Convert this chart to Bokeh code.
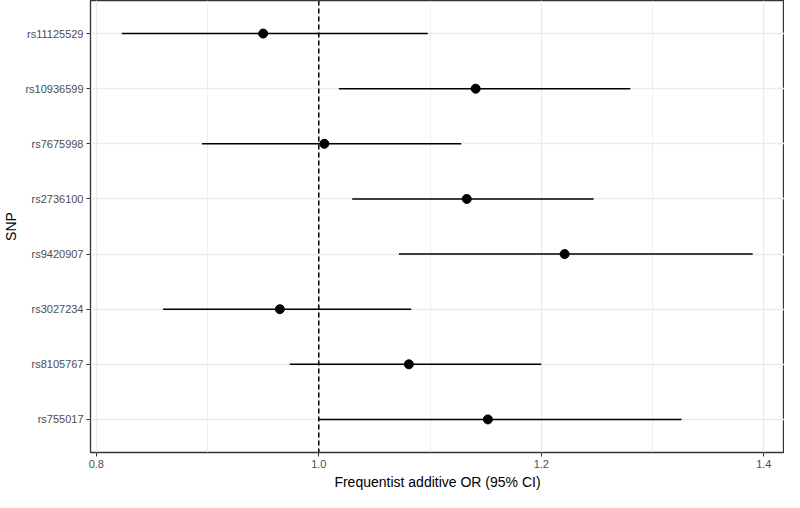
from bokeh.plotting import figure
from bokeh.models import FixedTicker, Span, ColumnDataSource, FactorRange, CustomJSTickFormatter
from bokeh.embed import file_html
from bokeh.resources import INLINE

snps = ["rs11125529", "rs10936599", "rs7675998", "rs2736100",
        "rs9420907", "rs3027234", "rs8105767", "rs755017"]
odds = [0.950, 1.141, 1.005, 1.133, 1.221, 0.965, 1.081, 1.152]
lower = [0.823, 1.018, 0.895, 1.030, 1.072, 0.860, 0.974, 1.000]
upper = [1.098, 1.280, 1.128, 1.247, 1.390, 1.083, 1.200, 1.326]
x_ticks = [0.8, 1.0, 1.2, 1.4]
x_minor = [0.9, 1.1, 1.3]
ref_line = 1.0

src = ColumnDataSource(dict(snp=snps, odds=odds, lower=lower, upper=upper))

factors = list(reversed(snps))
yr = FactorRange(factors=factors, range_padding=0.1, range_padding_units="absolute")

p = figure(width=784, height=492, y_range=yr, x_range=(0.7948, 1.4186),
           output_backend="svg", toolbar_location=None,
           min_border_left=0, min_border_right=0, min_border_top=0, min_border_bottom=0)

FONT = "Liberation Sans"

p.xgrid.ticker = FixedTicker(ticks=x_ticks, minor_ticks=x_minor)
p.xaxis.ticker = FixedTicker(ticks=x_ticks, minor_ticks=x_minor)
p.xaxis.formatter = CustomJSTickFormatter(code="return tick.toFixed(1);")
p.xgrid.grid_line_color = "#EBEBEB"
p.xgrid.grid_line_width = 1.3
p.xgrid.minor_grid_line_color = "#EBEBEB"
p.xgrid.minor_grid_line_width = 0.8
p.ygrid.grid_line_color = "#EBEBEB"
p.ygrid.grid_line_width = 1.3

p.outline_line_color = "#333333"
p.outline_line_width = 1.3
p.background_fill_color = "white"

for ax in (p.xaxis[0], p.yaxis[0]):
    ax.axis_line_color = None
    ax.major_tick_line_color = "#333333"
    ax.major_tick_out = 4
    ax.major_tick_in = 0
    ax.minor_tick_line_color = None
    ax.major_label_text_color = "#4D4D4D"
    ax.major_label_text_font = FONT
    ax.major_label_text_font_size = "11px"
    ax.axis_label_text_font = FONT
    ax.axis_label_text_font_style = "normal"
    ax.axis_label_text_font_size = "14px"
    ax.axis_label_text_color = "black"

p.xaxis.axis_label = "Frequentist additive OR (95% CI)"
p.yaxis.axis_label = "SNP"
p.xaxis.major_label_standoff = 3
p.xaxis.axis_label_standoff = 3
p.yaxis.major_label_standoff = 3
p.yaxis.axis_label_standoff = 3

p.add_layout(Span(location=ref_line, dimension="height", line_color="black",
                  line_dash="5 3", line_width=1.5))

p.segment(x0="lower", x1="upper", y0="snp", y1="snp", source=src,
          line_color="black", line_width=1.6)
p.scatter(x="odds", y="snp", source=src, size=9, color="black")

open("out.html", "w").write(file_html(p, INLINE))
